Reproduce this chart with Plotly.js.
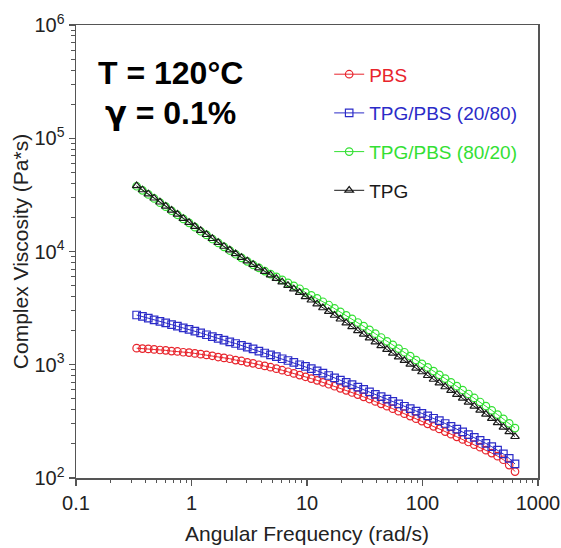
<!DOCTYPE html>
<html>
<head>
<meta charset="utf-8">
<script src="https://cdn.plot.ly/plotly-3.0.1.min.js"></script>
<style>html,body{margin:0;padding:0;background:#fff;}#chart{width:561px;height:548px;}</style>
</head>
<body>
<div id="chart"></div>
<script>
// Angular frequency (rad/s)
const freq = [0.335,0.376,0.4225,0.4745,0.533,0.598,0.672,0.755,0.848,0.952,
  1.069,1.200,1.348,1.514,1.701,1.910,2.145,2.409,2.705,3.038,
  3.412,3.832,4.304,4.833,5.428,6.095,6.846,7.688,8.635,9.696,
  10.89,12.23,13.73,15.42,17.32,19.45,21.85,24.54,27.55,30.95,
  34.75,39.03,43.84,49.23,55.29,62.09,69.73,78.32,87.96,98.8,
  110.9,124.6,139.9,157.1,176.5,198.2,222.6,250.0,280.7,315.3,
  354.0,397.6,446.6,501.5,563.2,632.5];

// Complex viscosity (Pa*s)
const pbs = [1400,1390,1380,1365,1350,1340,1320,1310,1290,1280,
  1260,1240,1220,1200,1170,1150,1130,1100,1080,1050,
  1030,1000,977,951,923,895,867,839,811,783,
  755,728,700,673,646,619,594,569,545,521,
  498,474,452,431,409,389,370,352,334,318,
  301,286,271,257,244,231,219,208,197,187,
  176,166,156,145,130,114];

const tpgPbs2080 = [2750,2670,2580,2490,2420,2340,2260,2190,2120,2050,
  1980,1910,1840,1770,1710,1650,1590,1540,1480,1430,
  1380,1320,1270,1220,1180,1130,1090,1050,1000,966,
  925,883,843,804,767,733,700,667,635,605,
  575,548,522,498,474,451,430,409,390,372,
  353,337,321,303,286,270,255,242,228,215,
  202,189,176,163,149,133];

const tpgPbs8020 = [37700,34700,31900,29400,27000,24900,22900,21100,19400,17900,
  16400,15100,14000,12900,11900,11000,10200,9460,8790,8190,
  7620,7160,6710,6320,5960,5610,5280,4980,4690,4350,
  4100,3850,3600,3370,3140,2930,2730,2540,2360,2190,
  2030,1880,1740,1610,1500,1390,1290,1190,1100,1020,
  948,879,815,755,700,647,598,552,509,469,
  432,396,363,333,304,276];

const tpg = [38000,35000,32200,29600,27300,25100,23100,21300,19600,18000,
  16600,15300,14100,13000,12000,11100,10300,9550,8870,8260,
  7690,7160,6670,6210,5780,5380,5010,4670,4350,3980,
  3720,3440,3180,2950,2730,2530,2340,2170,2000,1860,
  1720,1590,1470,1365,1265,1170,1090,1010,933,865,
  802,743,689,638,592,547,506,467,431,396,
  365,335,307,281,256,232];

const seriesNames = ['PBS','TPG/PBS (20/80)','TPG/PBS (80/20)','TPG'];
const xTickVals = [0.1,1,10,100,1000];
const xTickText = ['0.1','1','10','100','1000'];
const yTickVals = [100,1000,10000,100000,1000000];
const yTickText = ['10<sup>2</sup>','10<sup>3</sup>','10<sup>4</sup>','10<sup>5</sup>','10<sup>6</sup>'];

// minor tick positions (2..9 within each decade of the axes)
function minorTicks(decades){
  const out=[];
  decades.forEach(d=>{ for(let m=2;m<=9;m++) out.push(m*d); });
  return out;
}
const xMinor = minorTicks([0.1,1,10,100]);
const yMinor = minorTicks([100,1000,10000,100000]);

const colors = ['#e8242c','#2b2bc8','#33e033','#1a1a1a'];
const symbols = ['circle-open','square-open','circle-open','triangle-up-open'];
const ys = [pbs,tpgPbs2080,tpgPbs8020,tpg];

const traces = ys.map((y,i)=>({
  x: freq, y: y, type:'scatter', mode:'lines+markers',
  name: '<span style="color:'+colors[i]+'">'+seriesNames[i]+'</span>',
  legendgroup: 'g'+i,
  line:{color:colors[i], width:1},
  marker:{symbol:symbols[i], size:7.5, color:colors[i], line:{color:colors[i], width:1.2}}
}));

const FF = 'Liberation Sans, Arial, sans-serif';
const axisFont = {family:FF, size:20, color:'#222'};
const layout = {
  width:561, height:548,
  margin:{l:76, r:23, t:25, b:70, pad:0},
  paper_bgcolor:'#fff', plot_bgcolor:'#fff',
  font:{family:FF, color:'#111'},
  showlegend:true,
  legend:{x:0.548, y:0.933, xanchor:'left', yanchor:'top', bgcolor:'rgba(0,0,0,0)',
    font:{family:FF, size:19}, tracegroupgap:11, traceorder:'grouped'},
  xaxis:{type:'log', range:[-1,3], showgrid:false, zeroline:false,
    showline:true, linecolor:'#555', linewidth:1.5, mirror:true,
    ticks:'outside', ticklen:6, tickwidth:1.2, tickcolor:'#555',
    tickmode:'array', tickvals:xTickVals, ticktext:xTickText, tickfont:axisFont,
    minor:{tickmode:'array', tickvals:xMinor, ticks:'outside', ticklen:3.5, tickwidth:1, tickcolor:'#555', showgrid:false},
    title:{text:'Angular Frequency (rad/s)', font:{family:FF, size:21, color:'#222'}, standoff:14}},
  yaxis:{type:'log', range:[2,6], showgrid:false, zeroline:false,
    showline:true, linecolor:'#555', linewidth:1.5, mirror:true,
    ticks:'outside', ticklen:6, tickwidth:1.2, tickcolor:'#555',
    tickmode:'array', tickvals:yTickVals, ticktext:yTickText, tickfont:axisFont,
    minor:{tickmode:'array', tickvals:yMinor, ticks:'outside', ticklen:3.5, tickwidth:1, tickcolor:'#555', showgrid:false},
    title:{text:'Complex Viscosity (Pa*s)', font:{family:FF, size:21, color:'#222'}, standoff:0}},
  annotations:[
    {text:'<b>T = 120°C</b>', xref:'paper', yref:'paper', x:0.205, y:0.894, xanchor:'center', yanchor:'middle', showarrow:false,
      font:{family:FF, size:32, color:'#000'}},
    {text:'<b><span style="font-family:DejaVu Sans">γ</span> = 0.1%</b>', xref:'paper', yref:'paper', x:0.205, y:0.806, xanchor:'center', yanchor:'middle', showarrow:false,
      font:{family:FF, size:32, color:'#000'}}
  ]
};
Plotly.newPlot('chart', traces, layout, {staticPlot:true, displayModeBar:false});
</script>
</body>
</html>
